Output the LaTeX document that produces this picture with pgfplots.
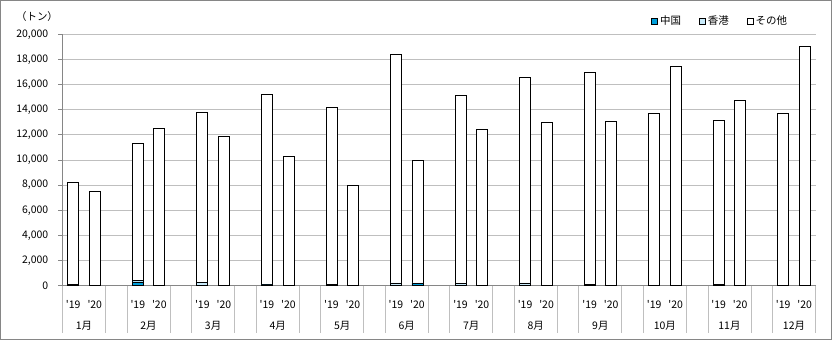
\documentclass[border=0pt]{standalone}
\usepackage{pgfplots}
\pgfplotsset{compat=1.18}
\usepackage{pgfplotstable}
\usepackage{fontspec}
\newfontfamily\jp{Noto Sans CJK JP}
\definecolor{cChina}{RGB}{0,158,218}
\definecolor{cHK}{RGB}{200,234,250}
\definecolor{gridc}{RGB}{191,191,191}
\definecolor{axc}{RGB}{134,134,134}
\pgfplotstableread{
x c h o
0 0 120 8110
1 20 20 7470
3 300 120 10910
4 10 20 12460
6 0 280 13510
7 10 20 11850
9 60 60 15130
10 10 20 10230
12 0 120 14070
13 10 20 7960
15 0 220 18200
16 200 20 9770
18 50 150 14950
19 10 20 12410
21 40 180 16360
22 10 20 12970
24 0 120 16860
25 10 20 13050
27 10 20 13690
28 10 20 17420
30 0 120 13040
31 10 20 14720
33 10 20 13690
34 10 20 19020
}\datatable
\begin{document}
\begin{tikzpicture}[font=\jp\fontsize{10.5}{12}\selectfont]
\draw[axc, line width=1bp] (0.5bp,0.5bp) rectangle (831.5bp,339.5bp);
\node[anchor=center] at (37bp,323bp) {（トン）};
\begin{axis}[
  at={(62.5bp,54.3bp)}, anchor=south west,
  scale only axis, width=753bp, height=251.4bp,
  xmin=-0.5, xmax=34.5, ymin=0, ymax=20000,
  ybar stacked, bar width=11bp,
  axis x line*=bottom, axis y line*=left,
  axis line style={axc, line width=0.8bp, -},
  ytick={0,2000,...,20000},
  scaled y ticks=false,
  yticklabel style={/pgf/number format/fixed, /pgf/number format/1000 sep={,}, /pgf/number format/assume math mode=true, anchor=east, inner sep=0pt, xshift=-10bp},
  ymajorgrids, grid style={gridc, line width=0.8bp},
  ytick style={axc, line width=0.8bp},
  tick align=outside, major tick length=4bp,
  xtick={0,1,3,4,6,7,9,10,12,13,15,16,18,19,21,22,24,25,27,28,30,31,33,34},
  xticklabels={'19,'20,'19,'20,'19,'20,'19,'20,'19,'20,'19,'20,'19,'20,'19,'20,'19,'20,'19,'20,'19,'20,'19,'20},
  xtick style={draw=none},
  xticklabel style={anchor=center, yshift=-15bp, inner sep=0pt},
  clip=false,
  legend columns=3,
  legend style={at={(0.969,1.052)}, anchor=east, draw=none, fill=none, font=\jp\fontsize{10.5}{12}\selectfont, /tikz/every even column/.append style={column sep=16bp}},
  legend image code/.code={\draw[#1, line width=0.8bp] (0bp,-3bp) rectangle (6bp,3bp);},
]
\addplot[fill=cChina, draw=black, line width=0.8bp] table[x=x,y=c]{\datatable};
\addplot[fill=cHK, draw=black, line width=0.8bp] table[x=x,y=h]{\datatable};
\addplot[fill=white, draw=black, line width=0.8bp] table[x=x,y=o]{\datatable};
\legend{中国,香港,その他}
\foreach \s in {-0.5,1.5,2.5,4.5,5.5,7.5,8.5,10.5,11.5,13.5,14.5,16.5,17.5,19.5,20.5,22.5,23.5,25.5,26.5,28.5,29.5,31.5,32.5,34.5}{
  \edef\tmp{\noexpand\draw[gridc, line width=0.8bp] (axis cs:\s,0) -- ([yshift=-47.6bp]axis cs:\s,0);}\tmp
}
\foreach \m [count=\i from 0] in {1月,2月,3月,4月,5月,6月,7月,8月,9月,10月,11月,12月}{
  \edef\tmp{\noexpand\node[anchor=center, inner sep=0pt] at (axis cs:\the\numexpr 3*\i\relax.5,0) [yshift=-40bp] {\m};}\tmp
}
\end{axis}
\pgfresetboundingbox
\useasboundingbox (0,0) rectangle (832bp,340bp);
\end{tikzpicture}
\end{document}
